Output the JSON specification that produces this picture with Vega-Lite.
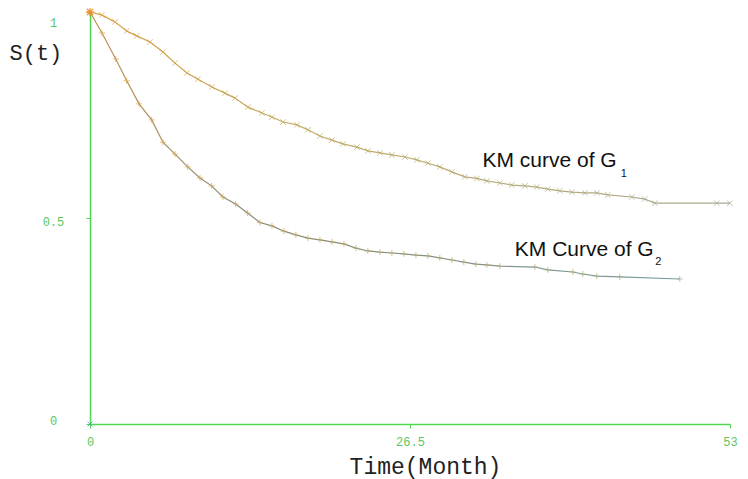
{
  "$schema": "https://vega.github.io/schema/vega-lite/v6.json",
  "width": 640,
  "height": 412,
  "autosize": {"type": "none"},
  "padding": {"left": 90, "top": 12, "right": 18, "bottom": 55},
  "background": "white",
  "config": {"view": {"stroke": null}},
  "datasets": {
    "km": [
      {"g": "G1", "t": 0, "s": 1.0},
      {"g": "G1", "t": 0.97, "s": 0.993},
      {"g": "G1", "t": 2.07, "s": 0.976},
      {"g": "G1", "t": 3.04, "s": 0.954},
      {"g": "G1", "t": 3.87, "s": 0.942},
      {"g": "G1", "t": 4.97, "s": 0.927},
      {"g": "G1", "t": 6.04, "s": 0.903},
      {"g": "G1", "t": 7.04, "s": 0.876},
      {"g": "G1", "t": 8.03, "s": 0.852},
      {"g": "G1", "t": 8.94, "s": 0.837},
      {"g": "G1", "t": 10.1, "s": 0.818},
      {"g": "G1", "t": 11.18, "s": 0.803},
      {"g": "G1", "t": 12.0, "s": 0.791},
      {"g": "G1", "t": 13.08, "s": 0.769},
      {"g": "G1", "t": 14.24, "s": 0.755},
      {"g": "G1", "t": 15.07, "s": 0.745},
      {"g": "G1", "t": 15.98, "s": 0.733},
      {"g": "G1", "t": 17.14, "s": 0.726},
      {"g": "G1", "t": 18.05, "s": 0.714},
      {"g": "G1", "t": 19.04, "s": 0.699},
      {"g": "G1", "t": 20.03, "s": 0.689},
      {"g": "G1", "t": 20.94, "s": 0.68},
      {"g": "G1", "t": 22.1, "s": 0.672},
      {"g": "G1", "t": 23.01, "s": 0.663},
      {"g": "G1", "t": 24.01, "s": 0.658},
      {"g": "G1", "t": 25.0, "s": 0.653},
      {"g": "G1", "t": 26.08, "s": 0.648},
      {"g": "G1", "t": 27.07, "s": 0.641},
      {"g": "G1", "t": 27.98, "s": 0.633},
      {"g": "G1", "t": 28.97, "s": 0.624},
      {"g": "G1", "t": 29.97, "s": 0.612},
      {"g": "G1", "t": 31.04, "s": 0.6},
      {"g": "G1", "t": 32.04, "s": 0.596},
      {"g": "G1", "t": 32.86, "s": 0.59},
      {"g": "G1", "t": 33.94, "s": 0.585},
      {"g": "G1", "t": 34.93, "s": 0.58},
      {"g": "G1", "t": 36.01, "s": 0.578},
      {"g": "G1", "t": 37.0, "s": 0.575},
      {"g": "G1", "t": 37.91, "s": 0.57},
      {"g": "G1", "t": 38.91, "s": 0.566},
      {"g": "G1", "t": 39.9, "s": 0.563},
      {"g": "G1", "t": 40.98, "s": 0.561},
      {"g": "G1", "t": 41.97, "s": 0.561},
      {"g": "G1", "t": 42.88, "s": 0.556},
      {"g": "G1", "t": 44.87, "s": 0.551},
      {"g": "G1", "t": 45.94, "s": 0.546},
      {"g": "G1", "t": 46.77, "s": 0.536},
      {"g": "G1", "t": 51.9, "s": 0.536},
      {"g": "G1", "t": 52.98, "s": 0.536},
      {"g": "G2", "t": 0, "s": 1.0},
      {"g": "G2", "t": 0.99, "s": 0.949},
      {"g": "G2", "t": 2.13, "s": 0.886},
      {"g": "G2", "t": 3.04, "s": 0.833},
      {"g": "G2", "t": 4.06, "s": 0.777},
      {"g": "G2", "t": 5.11, "s": 0.738},
      {"g": "G2", "t": 6.04, "s": 0.684},
      {"g": "G2", "t": 7.04, "s": 0.655},
      {"g": "G2", "t": 8.09, "s": 0.624},
      {"g": "G2", "t": 9.11, "s": 0.597},
      {"g": "G2", "t": 10.07, "s": 0.578},
      {"g": "G2", "t": 11.01, "s": 0.551},
      {"g": "G2", "t": 12.06, "s": 0.534},
      {"g": "G2", "t": 13.05, "s": 0.512},
      {"g": "G2", "t": 14.07, "s": 0.489},
      {"g": "G2", "t": 15.07, "s": 0.481},
      {"g": "G2", "t": 16.06, "s": 0.468},
      {"g": "G2", "t": 17.05, "s": 0.459},
      {"g": "G2", "t": 18.05, "s": 0.451},
      {"g": "G2", "t": 19.04, "s": 0.447},
      {"g": "G2", "t": 20.03, "s": 0.442},
      {"g": "G2", "t": 21.03, "s": 0.437},
      {"g": "G2", "t": 22.02, "s": 0.427},
      {"g": "G2", "t": 23.01, "s": 0.42},
      {"g": "G2", "t": 24.01, "s": 0.417},
      {"g": "G2", "t": 25.0, "s": 0.415},
      {"g": "G2", "t": 25.99, "s": 0.413},
      {"g": "G2", "t": 26.99, "s": 0.41},
      {"g": "G2", "t": 27.98, "s": 0.408},
      {"g": "G2", "t": 28.97, "s": 0.403},
      {"g": "G2", "t": 29.97, "s": 0.398},
      {"g": "G2", "t": 30.96, "s": 0.393},
      {"g": "G2", "t": 31.95, "s": 0.388},
      {"g": "G2", "t": 32.86, "s": 0.386},
      {"g": "G2", "t": 33.94, "s": 0.383},
      {"g": "G2", "t": 36.84, "s": 0.381},
      {"g": "G2", "t": 37.91, "s": 0.374},
      {"g": "G2", "t": 39.98, "s": 0.369},
      {"g": "G2", "t": 40.81, "s": 0.364},
      {"g": "G2", "t": 41.97, "s": 0.359},
      {"g": "G2", "t": 43.87, "s": 0.357},
      {"g": "G2", "t": 48.84, "s": 0.352}
    ],
    "start": [{"t": 0, "s": 1}],
    "origin": [{"t": 0, "s": 0}],
    "labels": [
      {"t": 32.5, "s": 0.624, "text": "KM curve of G", "kind": "main"},
      {"t": 43.95, "s": 0.6, "text": "1", "kind": "sub"},
      {"t": 35.18, "s": 0.408, "text": "KM Curve of G", "kind": "main"},
      {"t": 46.8, "s": 0.386, "text": "2", "kind": "sub"}
    ]
  },
  "encoding": {
    "x": {
      "field": "t",
      "type": "quantitative",
      "scale": {"domain": [0, 53], "nice": false, "zero": false},
      "axis": {
        "values": [0, 26.5, 53],
        "labelExpr": "'' + datum.value",
        "grid": false,
        "labelFlush": false,
        "labelFont": "Liberation Mono",
        "labelFontSize": 12,
        "labelColor": "#5cc65c",
        "labelPadding": 8,
        "domainColor": "#4fd84f",
        "domainWidth": 1.5,
        "tickColor": "#4fd84f",
        "tickSize": 4,
        "title": "Time(Month)",
        "titleFont": "Liberation Mono",
        "titleFontSize": 23,
        "titleFontWeight": "normal",
        "titleColor": "#222222",
        "titleX": 335,
        "titleY": 42,
        "titleBaseline": "middle"
      }
    },
    "y": {
      "field": "s",
      "type": "quantitative",
      "scale": {"domain": [0, 1], "nice": false},
      "axis": {
        "values": [0, 0.5, 1],
        "labelExpr": "'' + datum.value",
        "grid": false,
        "labelFlush": false,
        "labelOffset": {
          "condition": [
            {"test": "datum.value === 1", "value": 10},
            {"test": "datum.value === 0", "value": -4}
          ],
          "value": 3
        },
        "labelBaseline": "middle",
        "labelFont": "Liberation Mono",
        "labelFontSize": 12,
        "labelColor": "#5cc65c",
        "labelAlign": "center",
        "labelPadding": 33,
        "domainColor": "#4fd84f",
        "domainWidth": 1.5,
        "tickColor": "#4fd84f",
        "tickSize": 4,
        "title": "S(t)",
        "titleFont": "Liberation Mono",
        "titleFontSize": 22,
        "titleFontWeight": "normal",
        "titleColor": "#222222",
        "titleAngle": 0,
        "titleAlign": "left",
        "titleBaseline": "middle",
        "titleX": -81,
        "titleY": 40
      }
    }
  },
  "layer": [
    {
      "data": {"name": "km"},
      "transform": [{"filter": "datum.g === 'G1'"}],
      "mark": {
        "type": "line",
        "strokeWidth": 1.2,
        "color": {
          "gradient": "linear",
          "x1": 0, "y1": 0, "x2": 1, "y2": 0,
          "stops": [
            {"offset": 0, "color": "#d49a3a"},
            {"offset": 0.3, "color": "#c2ad66"},
            {"offset": 1, "color": "#a8a892"}
          ]
        }
      }
    },
    {
      "data": {"name": "km"},
      "transform": [{"filter": "datum.g === 'G2'"}],
      "mark": {
        "type": "line",
        "strokeWidth": 1.2,
        "color": {
          "gradient": "linear",
          "x1": 0, "y1": 0, "x2": 1, "y2": 0,
          "stops": [
            {"offset": 0, "color": "#c0924a"},
            {"offset": 0.25, "color": "#8d8a72"},
            {"offset": 1, "color": "#7a9c9e"}
          ]
        }
      }
    },
    {
      "data": {"name": "km"},
      "transform": [{"filter": "datum.g === 'G1'"}],
      "mark": {
        "type": "point",
        "shape": "M-1,-1L1,1M-1,1L1,-1",
        "size": 30,
        "filled": false,
        "strokeWidth": 1
      },
      "encoding": {
        "stroke": {
          "field": "t",
          "type": "quantitative",
          "scale": {"domain": [0, 53], "range": ["#e0a040", "#a8a890"]},
          "legend": null
        }
      }
    },
    {
      "data": {"name": "km"},
      "transform": [{"filter": "datum.g === 'G2'"}],
      "mark": {
        "type": "point",
        "shape": "M-1,0L1,0M0,-1L0,1",
        "size": 36,
        "filled": false,
        "strokeWidth": 1
      },
      "encoding": {
        "stroke": {
          "field": "t",
          "type": "quantitative",
          "scale": {"domain": [0, 53], "range": ["#b08a50", "#7a9a9a"]},
          "legend": null
        }
      }
    },
    {
      "data": {"name": "start"},
      "mark": {
        "type": "point",
        "shape": "M-1,-1L1,1M-1,1L1,-1M-1.3,0L1.3,0M0,-1.3L0,1.3",
        "size": 40,
        "filled": false,
        "strokeWidth": 1.5,
        "stroke": "#f08a20"
      }
    },
    {
      "data": {"name": "origin"},
      "mark": {
        "type": "point",
        "shape": "M-1,-1L1,1M-1,1L1,-1",
        "size": 24,
        "filled": false,
        "strokeWidth": 1,
        "stroke": "#3aa0c0"
      }
    },
    {
      "data": {"name": "labels"},
      "transform": [{"filter": "datum.kind === 'main'"}],
      "mark": {
        "type": "text",
        "font": "Liberation Sans",
        "fontSize": 21,
        "align": "left",
        "baseline": "alphabetic",
        "color": "#111111"
      },
      "encoding": {"text": {"field": "text"}}
    },
    {
      "data": {"name": "labels"},
      "transform": [{"filter": "datum.kind === 'sub'"}],
      "mark": {
        "type": "text",
        "font": "Liberation Sans",
        "fontSize": 11,
        "align": "left",
        "baseline": "alphabetic",
        "color": "#111111"
      },
      "encoding": {"text": {"field": "text"}}
    }
  ]
}
